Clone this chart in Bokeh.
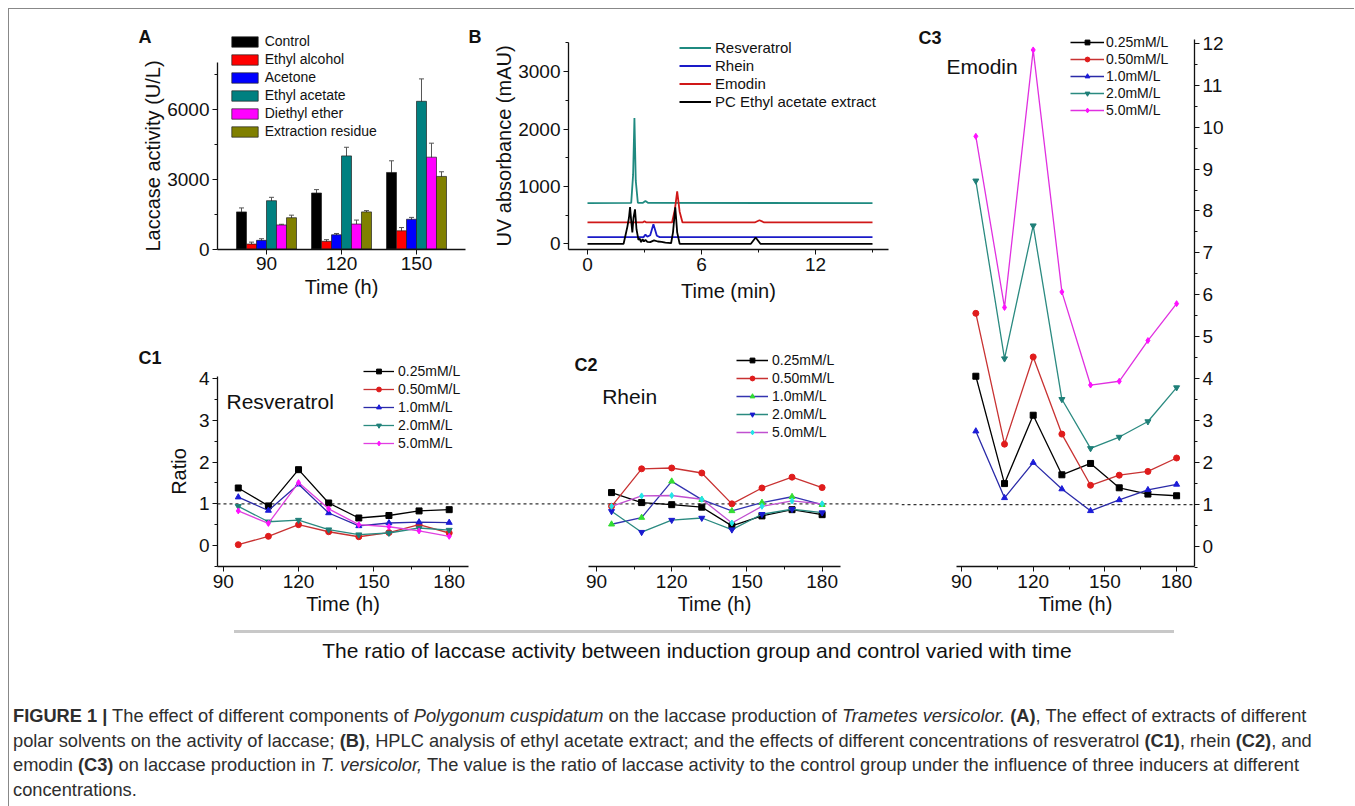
from bokeh.plotting import figure
from bokeh.models import (Range1d, FixedTicker, Legend, LegendItem, Label,
                          Whisker, TeeHead, ColumnDataSource, Div)
from bokeh.layouts import row, column
from bokeh.embed import file_html
from bokeh.resources import INLINE

FONT = "Liberation Sans"

# ---------------- Panel A data ----------------
a_times = ["90", "120", "150"]
a_series = ["Control", "Ethyl alcohol", "Acetone", "Ethyl acetate", "Diethyl ether", "Extraction residue"]
a_control = [1590, 2400, 3280]
a_ethanol = [210, 330, 780]
a_acetone = [370, 610, 1275]
a_ethyl_acetate = [2070, 3990, 6330]
a_ether = [1030, 1070, 3935]
a_residue = [1340, 1590, 3110]
a_control_err = [170, 145, 500]
a_ethanol_err = [85, 70, 140]
a_acetone_err = [70, 55, 80]
a_ethyl_acetate_err = [145, 370, 960]
a_ether_err = [30, 170, 600]
a_residue_err = [110, 55, 200]
a_colors = ["#000000", "#ff0000", "#0000ff", "#008080", "#ff00ff", "#808000"]

# ---------------- Panel B data (chromatograms) ----------------
b_names = ["Resveratrol", "Rhein", "Emodin", "PC Ethyl acetate extract"]
b_resv_t = [0, 2.30, 2.40, 2.47, 2.54, 2.65, 2.90, 3.05, 3.20, 15]
b_resv_v = [710, 712, 1200, 2190, 1100, 715, 712, 745, 712, 710]
b_rhein_t = [0, 2.95, 3.05, 3.15, 3.30, 3.47, 3.65, 3.80, 15]
b_rhein_v = [116, 116, 160, 125, 150, 340, 140, 116, 116]
b_emod_t = [0, 2.90, 3.00, 3.10, 4.45, 4.60, 4.72, 4.85, 5.00, 8.80, 9.05, 9.30, 15]
b_emod_v = [372, 372, 392, 372, 372, 600, 913, 560, 372, 372, 410, 372, 372]
b_pc_t = [0, 1.90, 2.00, 2.10, 2.18, 2.24, 2.30, 2.36, 2.42, 2.50, 2.58, 2.68, 2.75, 2.82,
          2.90, 2.97, 3.05, 3.15, 3.30, 3.50, 3.70, 3.90, 4.10, 4.40, 4.50, 4.62, 4.72,
          4.85, 8.60, 8.85, 9.10, 15]
b_pc_v = [0, 0, 150, 300, 450, 640, 400, 200, 450, 600, 250, 70, 90, 30,
          80, 40, 70, 35, 30, 60, 40, 35, 20, 10, 200, 634, 200,
          0, 0, 110, 0, 0]
b_colors = ["#1f8a80", "#1a1ac8", "#d01818", "#000000"]

# ---------------- Panels C data ----------------
c_times = [96, 108, 120, 132, 144, 156, 168, 180]
c_labels = ["0.25mM/L", "0.50mM/L", "1.0mM/L", "2.0mM/L", "5.0mM/L"]
ref_ratio = 1.0

c1_025 = [1.38, 0.95, 1.82, 1.02, 0.66, 0.72, 0.83, 0.86]
c1_050 = [0.02, 0.22, 0.50, 0.33, 0.21, 0.31, 0.50, 0.30]
c1_100 = [1.16, 0.84, 1.47, 0.78, 0.47, 0.54, 0.56, 0.55]
c1_200 = [0.94, 0.57, 0.61, 0.38, 0.26, 0.30, 0.42, 0.37]
c1_500 = [0.83, 0.53, 1.51, 0.88, 0.50, 0.45, 0.35, 0.22]

c2_025 = [1.27, 1.03, 0.98, 0.92, 0.47, 0.71, 0.86, 0.74]
c2_050 = [0.94, 1.84, 1.86, 1.74, 1.00, 1.38, 1.64, 1.39]
c2_100 = [0.51, 0.67, 1.54, 1.10, 0.83, 1.03, 1.17, 0.98]
c2_200 = [0.82, 0.32, 0.61, 0.66, 0.38, 0.75, 0.87, 0.79]
c2_500 = [0.94, 1.19, 1.20, 1.11, 0.54, 0.94, 1.07, 1.00]

c3_025 = [4.06, 1.50, 3.13, 1.71, 1.98, 1.40, 1.25, 1.21]
c3_050 = [5.56, 2.44, 4.52, 2.68, 1.46, 1.70, 1.79, 2.11]
c3_100 = [2.75, 1.16, 2.00, 1.37, 0.85, 1.11, 1.35, 1.48]
c3_200 = [8.72, 4.48, 7.65, 3.51, 2.34, 2.61, 2.98, 3.79]
c3_500 = [9.78, 5.70, 11.84, 6.07, 3.85, 3.94, 4.91, 5.79]

c_markers = ["square", "circle", "triangle", "inverted_triangle", "diamond"]
c1_line_colors = ["#000000", "#c83232", "#2a2aa8", "#2a8a80", "#e040e0"]
c1_mark_colors = ["#000000", "#e01c1c", "#1c1cd8", "#1f7f78", "#ff10ff"]
c2_line_colors = ["#000000", "#c83232", "#3434b0", "#2a8a80", "#c050d0"]
c2_mark_colors = ["#000000", "#e01c1c", "#33dd33", "#1a1ad0", "#22e6e6"]
c3_line_colors = ["#000000", "#c83232", "#2a2aa8", "#2a8a80", "#e030e0"]
c3_mark_colors = ["#000000", "#e01c1c", "#1c1cd8", "#1f7f78", "#ff10ff"]


# ---------------- layout helpers (pixel -> data mapping) ----------------
class Mapper:
    """Linear map for one figure whose frame fills its whole canvas."""

    def __init__(self, box, xv0, xpx0, xppu, yv0, ypx0, yppu):
        self.l, self.t, self.r, self.b = box
        self.xv0, self.xpx0, self.xppu = xv0, xpx0, xppu
        self.yv0, self.ypx0, self.yppu = yv0, ypx0, yppu

    def xd(self, px):
        return self.xv0 + (px - self.xpx0) / self.xppu

    def yd(self, py):
        return self.yv0 + (self.ypx0 - py) / self.yppu

    def xrange(self):
        return Range1d(self.xd(self.l), self.xd(self.r))

    def yrange(self):
        return Range1d(self.yd(self.b), self.yd(self.t))

    def sx(self, px):
        return px - self.l

    def sy(self, py):
        return self.b - py

    @property
    def w(self):
        return self.r - self.l

    @property
    def h(self):
        return self.b - self.t


def style_axis(ax, tick_size="19px", label_size="20px", label_standoff=0):
    ax.axis_line_color = "#111111"
    ax.axis_line_width = 1.3
    ax.major_tick_line_color = "#111111"
    ax.minor_tick_line_color = "#111111"
    ax.major_tick_out = 5
    ax.major_tick_in = 0
    ax.minor_tick_out = 3
    ax.minor_tick_in = 0
    ax.major_label_text_font = FONT
    ax.major_label_text_font_size = tick_size
    ax.major_label_text_color = "#111111"
    ax.major_label_standoff = 3
    ax.axis_label_text_font = FONT
    ax.axis_label_text_font_size = label_size
    ax.axis_label_text_font_style = "normal"
    ax.axis_label_text_color = "#111111"
    ax.axis_label_standoff = label_standoff


def base_fig(m, **kw):
    p = figure(width=m.w, height=m.h, x_range=m.xrange(), y_range=m.yrange(),
               output_backend="svg", toolbar_location=None, min_border=0,
               min_border_left=0, min_border_right=0, min_border_top=0,
               min_border_bottom=0, **kw)
    p.outline_line_color = None
    p.xgrid.visible = False
    p.ygrid.visible = False
    p.background_fill_color = "white"
    p.border_fill_color = "white"
    return p


def add_label(p, m, text, px, py, size="20px", bold=False):
    p.add_layout(Label(x=m.sx(px), y=m.sy(py), x_units="screen", y_units="screen", text=text,
                       text_font=FONT, text_font_size=size,
                       text_font_style="bold" if bold else "normal",
                       text_color="#111111", text_baseline="middle", text_align="left"))


def make_legend(m, items, left_px, top_px, font_size, glyph_w, glyph_h, item_h, spacing, standoff):
    n = len(items)
    height = n * item_h + (n - 1) * spacing
    lg = Legend(items=items, location=(m.sx(left_px), m.b - (top_px + height)))
    lg.label_text_font = FONT
    lg.label_text_font_size = font_size
    lg.label_text_color = "#111111"
    lg.glyph_width = glyph_w
    lg.glyph_height = glyph_h
    lg.label_height = item_h
    lg.spacing = spacing
    lg.label_standoff = standoff
    lg.padding = 0
    lg.margin = 0
    lg.border_line_color = None
    lg.background_fill_alpha = 0
    return lg


# ---------------- Figure A ----------------
mA = Mapper((8, 8, 465, 310), 0.5, 265, 75.0, 0, 247.5, 70 / 3000)
pA = base_fig(mA)
a_vals = [a_control, a_ethanol, a_acetone, a_ethyl_acetate, a_ether, a_residue]
a_errs = [a_control_err, a_ethanol_err, a_acetone_err, a_ethyl_acetate_err, a_ether_err, a_residue_err]
bar_w = 0.1333
a_items = []
for k, (name, vals, errs, col) in enumerate(zip(a_series, a_vals, a_errs, a_colors)):
    off = (k - 2.5) * bar_w
    xs = [i + 0.5 + off for i in range(len(a_times))]
    src = ColumnDataSource(dict(x=xs, top=vals,
                                upper=[v + e for v, e in zip(vals, errs)],
                                lower=[v - e for v, e in zip(vals, errs)]))
    r = pA.vbar(x="x", top="top", width=bar_w, bottom=0, source=src,
                fill_color=col, line_color="#222222", line_width=0.7)
    pA.add_layout(Whisker(source=src, base="x", upper="upper", lower="lower",
                          line_color="#555555", line_width=1,
                          upper_head=TeeHead(size=5, line_color="#555555", line_width=1),
                          lower_head=TeeHead(size=5, line_color="#555555", line_width=1)))
    a_items.append(LegendItem(label=name, renderers=[r]))
pA.xaxis.ticker = FixedTicker(ticks=[i + 0.5 for i in range(len(a_times))], minor_ticks=[])
pA.xaxis.major_label_overrides = {i + 0.5: t for i, t in enumerate(a_times)}
pA.xaxis.fixed_location = 0
pA.xaxis.bounds = (mA.xd(216), mA.xd(464))
pA.yaxis.ticker = FixedTicker(ticks=[0, 3000, 6000], minor_ticks=[1500, 4500, 7500])
pA.yaxis.fixed_location = mA.xd(216)
pA.yaxis.bounds = (0, 8000)
pA.xaxis.axis_label = "Time (h)"
pA.yaxis.axis_label = "Laccase activity (U/L)"
style_axis(pA.xaxis[0], label_standoff=2)
style_axis(pA.yaxis[0], label_standoff=0)
pA.add_layout(make_legend(mA, a_items, 226.7, 31.5, "14px", 33, 13, 17, 1, 4))
add_label(pA, mA, "A", 137, 35, size="18px", bold=True)

# ---------------- Figure B ----------------
mB = Mapper((465, 8, 900, 310), 0, 586, 19.0, 0, 242.3, 0.0574)
pB = base_fig(mB)
b_data = [(b_resv_t, b_resv_v), (b_rhein_t, b_rhein_v), (b_emod_t, b_emod_v), (b_pc_t, b_pc_v)]
b_items = []
for name, (t, v), col in zip(b_names, b_data, b_colors):
    r = pB.line(t, v, line_color=col, line_width=1.8)
    b_items.append(LegendItem(label=name, renderers=[r]))
pB.xaxis.ticker = FixedTicker(ticks=[0, 6, 12], minor_ticks=[3, 9, 15])
pB.yaxis.ticker = FixedTicker(ticks=[0, 1000, 2000, 3000], minor_ticks=[500, 1500, 2500, 3500])
pB.xaxis.fixed_location = mB.yd(248)
pB.xaxis.bounds = (mB.xd(567), mB.xd(887))
pB.yaxis.fixed_location = mB.xd(567)
pB.yaxis.bounds = (mB.yd(248), 3500)
pB.xaxis.axis_label = "Time (min)"
pB.yaxis.axis_label = "UV absorbance (mAU)"
style_axis(pB.xaxis[0], label_standoff=6)
style_axis(pB.yaxis[0], label_standoff=0)
pB.add_layout(make_legend(mB, b_items, 678, 37.5, "15px", 32, 13, 17, 1, 4))
add_label(pB, mB, "B", 467, 35, size="18px", bold=True)


# ---------------- C panels ----------------
def c_panel(p, m, series, line_colors, mark_colors, x_lo, x_hi):
    items = []
    p.segment(x0=[x_lo], x1=[x_hi], y0=[ref_ratio], y1=[ref_ratio], line_color="#333333",
              line_dash="3 3", line_width=1.2)
    for lab, vals, lc, mc, mk in zip(c_labels, series, line_colors, mark_colors, c_markers):
        rl = p.line(c_times, vals, line_color=lc, line_width=1.3)
        rs = p.scatter(c_times, vals, marker=mk, size=6, fill_color=mc, line_color=mc)
        items.append(LegendItem(label=lab, renderers=[rl, rs]))
    return items


c_major = [90, 120, 150, 180]
c_minor = [105, 135, 165]

mC1 = Mapper((8, 310, 540, 620), 90, 221.7, 2.511, 0, 544, 41.67)
pC1 = base_fig(mC1)
it1 = c_panel(pC1, mC1, [c1_025, c1_050, c1_100, c1_200, c1_500], c1_line_colors, c1_mark_colors,
              mC1.xd(216), mC1.xd(mC1.r))
pC1.add_layout(make_legend(mC1, it1, 362, 361.5, "14px", 31, 12, 17, 1, 4))
pC1.xaxis.ticker = FixedTicker(ticks=c_major, minor_ticks=c_minor)
pC1.xaxis.fixed_location = mC1.yd(565)
pC1.xaxis.bounds = (mC1.xd(216), mC1.xd(467))
pC1.yaxis.ticker = FixedTicker(ticks=[0, 1, 2, 3, 4], minor_ticks=[-0.5, 0.5, 1.5, 2.5, 3.5])
pC1.yaxis.fixed_location = mC1.xd(216)
pC1.yaxis.bounds = (mC1.yd(565), 4.05)
pC1.xaxis.axis_label = "Time (h)"
pC1.yaxis.axis_label = "Ratio"
style_axis(pC1.xaxis[0], label_standoff=2)
style_axis(pC1.yaxis[0], label_standoff=6)
add_label(pC1, mC1, "C1", 137, 356, size="18px", bold=True)
add_label(pC1, mC1, "Resveratrol", 225, 400, size="21px")

mC2 = Mapper((540, 310, 900, 620), 90, 595, 2.507, 0, 544, 41.67)
pC2 = base_fig(mC2, y_axis_location=None)
it2 = c_panel(pC2, mC2, [c2_025, c2_050, c2_100, c2_200, c2_500], c2_line_colors, c2_mark_colors,
              mC2.xd(mC2.l), mC2.xd(mC2.r))
pC2.add_layout(make_legend(mC2, it2, 735, 350, "14px", 32, 12, 17, 1, 4))
pC2.xaxis.ticker = FixedTicker(ticks=c_major, minor_ticks=c_minor)
pC2.xaxis.fixed_location = mC2.yd(565)
pC2.xaxis.bounds = (mC2.xd(586.7), mC2.xd(839.3))
pC2.xaxis.axis_label = "Time (h)"
style_axis(pC2.xaxis[0], label_standoff=2)
add_label(pC2, mC2, "C2", 573, 363, size="18px", bold=True)
add_label(pC2, mC2, "Rhein", 600.7, 395, size="21px")

mC3 = Mapper((900, 8, 1347, 620), 90, 960, 2.39, 0, 545, 41.94)
pC3 = base_fig(mC3, y_axis_location="right")
it3 = c_panel(pC3, mC3, [c3_025, c3_050, c3_100, c3_200, c3_500], c3_line_colors, c3_mark_colors,
              mC3.xd(mC3.l), mC3.xd(1193))
pC3.add_layout(make_legend(mC3, it3, 1069, 32.5, "14px", 34, 12, 16, 1, 2))
pC3.xaxis.ticker = FixedTicker(ticks=c_major, minor_ticks=c_minor)
pC3.xaxis.fixed_location = mC3.yd(565)
pC3.xaxis.bounds = (mC3.xd(955), mC3.xd(1193))
pC3.yaxis.ticker = FixedTicker(ticks=list(range(0, 13)),
                               minor_ticks=[x + 0.5 for x in range(-1, 12)])
pC3.yaxis.fixed_location = mC3.xd(1193)
pC3.yaxis.bounds = (mC3.yd(565), 12.1)
pC3.xaxis.axis_label = "Time (h)"
style_axis(pC3.xaxis[0], label_standoff=2)
style_axis(pC3.yaxis[0], label_standoff=0)
add_label(pC3, mC3, "C3", 917, 36.7, size="18px", bold=True)
add_label(pC3, mC3, "Emodin", 945, 65, size="21px")

# ---------------- text blocks ----------------
FULL_W = 1345
hr = Div(text='<div style="margin-left:225px;margin-top:8px;width:940px;height:3px;'
              'background:#c8c8c8"></div>', width=FULL_W, height=16, margin=0)
title_div = Div(text='<div style="margin-left:37px;width:1302px;text-align:center;'
                     'padding-top:2px;line-height:24px;font-family:\'Liberation Sans\',Arial,sans-serif;'
                     'font-size:21px;color:#111;white-space:nowrap">The ratio of laccase activity between '
                     'induction group and control varied with time</div>',
                width=FULL_W, height=30, margin=0)
cap_html = (
    '<div style="padding-left:4px;padding-top:37px;line-height:24.7px;'
    'font-family:\'Liberation Sans\',Arial,sans-serif;font-size:18.25px;color:#2e2e2e;white-space:nowrap">'
    '<b>FIGURE 1 |</b> The effect of different components of <i>Polygonum cuspidatum</i> on the laccase '
    'production of <i>Trametes versicolor.</i> <b>(A)</b>, The effect of extracts of different<br>'
    'polar solvents on the activity of laccase; <b>(B)</b>, HPLC analysis of ethyl acetate extract; and the '
    'effects of different concentrations of resveratrol <b>(C1)</b>, rhein <b>(C2)</b>, and<br>'
    'emodin <b>(C3)</b> on laccase production in <i>T. versicolor,</i> The value is the ratio of laccase '
    'activity to the control group under the influence of three inducers at different<br>'
    'concentrations.</div>'
)
cap_div = Div(text=cap_html, width=FULL_W, height=140, margin=0)

left_block = column(row(pA, pB), row(pC1, pC2))
main = row(left_block, pC3)
root = column(main, hr, title_div, cap_div, margin=(8, 0, 0, 8),
              styles={"border-left": "1px solid #888", "border-top": "1px solid #888"})

open("out.html", "w").write(file_html(root, INLINE))
